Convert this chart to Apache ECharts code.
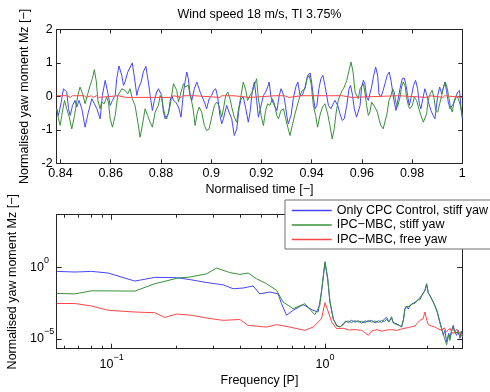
<!DOCTYPE html>
<html><head><meta charset="utf-8">
<script src="https://cdn.jsdelivr.net/npm/echarts@6/dist/echarts.min.js"></script>
<style>html,body{margin:0;padding:0;background:#fff}#c{width:490px;height:392px}</style>
</head><body><div id="c"></div>
<script>
const titleText = 'Wind speed 18 m/s, TI 3.75%';
const seriesNames = ['Only CPC Control, stiff yaw', 'IPC\u2212MBC, stiff yaw', 'IPC\u2212MBC, free yaw'];
const seriesColors = ['#4646ff', '#3a8f3a', '#ff4646'];
const timeRange = [0.8385, 1.0];
const timeTicks = [0.84, 0.86, 0.88, 0.9, 0.92, 0.94, 0.96, 0.98, 1.0];
const momentRange = [-2, 2];
const freqRange = [0.0553, 4.4];
const freqMajorTicks = [0.1, 1];
const freqMinorTicks = [0.06, 0.07, 0.08, 0.09, 0.2, 0.3, 0.4, 0.5, 0.6, 0.7, 0.8, 0.9, 2, 3, 4];
const psdRange = [2.1e-6, 4.7e3];
const psdTicks = [1e-5, 1];

const timeBlue = [[0.8385,-0.37],[0.8392,-0.57],[0.8403,-0.17],[0.8412,0.23],[0.8419,0.28],[0.8425,0.13],[0.8432,-0.37],[0.8439,-0.57],[0.8448,-0.27],[0.8458,-0.12],[0.8465,-0.32],[0.8474,-0.12],[0.8485,-0.37],[0.8498,-0.92],[0.8511,-0.47],[0.8525,-0.07],[0.8535,-0.22],[0.8545,-0.37],[0.8558,-0.67],[0.8567,0.03],[0.8578,0.48],[0.8588,0.13],[0.8598,-0.27],[0.8607,-0.12],[0.8618,0.03],[0.8624,0.53],[0.8633,0.91],[0.8644,0.63],[0.8651,0.33],[0.8657,0.43],[0.8668,0.73],[0.8686,1.0],[0.8697,0.43],[0.8704,0.03],[0.8710,0.23],[0.8721,0.43],[0.8730,0.73],[0.8740,0.90],[0.8750,0.43],[0.8757,0.03],[0.8766,-0.42],[0.8774,-0.12],[0.8783,0.13],[0.8790,0.23],[0.8797,0.18],[0.8803,0.03],[0.8810,-0.47],[0.8817,-0.67],[0.8823,-0.72],[0.8830,-0.52],[0.8837,-0.12],[0.8843,0.03],[0.8850,-0.12],[0.8859,-0.17],[0.8870,-0.32],[0.8880,-0.62],[0.8890,0.13],[0.8896,0.43],[0.8903,0.73],[0.8909,0.53],[0.8916,0.08],[0.8923,-0.12],[0.8933,0.23],[0.8943,0.43],[0.8949,0.38],[0.8956,0.13],[0.8962,0.03],[0.8973,-0.17],[0.8982,-0.37],[0.8992,-0.07],[0.9002,0.03],[0.9010,0.18],[0.9018,0.23],[0.9026,-0.02],[0.9035,-0.57],[0.9042,-0.82],[0.9049,-0.67],[0.9055,-0.47],[0.9062,-0.27],[0.9071,-0.47],[0.9082,-0.67],[0.9092,-1.17],[0.9102,-0.97],[0.9111,-0.37],[0.9119,-0.07],[0.9128,-0.02],[0.9138,-0.37],[0.9148,-0.77],[0.9155,-0.47],[0.9164,0.18],[0.9172,0.43],[0.9181,-0.12],[0.9188,-0.62],[0.9199,-0.27],[0.9208,0.03],[0.9217,0.13],[0.9225,0.28],[0.9231,0.43],[0.9238,-0.02],[0.9248,-0.22],[0.9254,-0.27],[0.9262,-0.42],[0.9270,-0.02],[0.9278,0.23],[0.9284,0.13],[0.9292,-0.07],[0.9301,-0.57],[0.9307,-0.82],[0.9318,-0.57],[0.9327,-0.07],[0.9337,0.28],[0.9345,0.43],[0.9354,0.03],[0.9363,0.03],[0.9374,0.28],[0.9384,0.63],[0.9394,0.70],[0.9400,0.43],[0.9407,-0.02],[0.9414,-0.37],[0.9421,-0.27],[0.9429,0.23],[0.9437,0.53],[0.9445,0.63],[0.9453,0.33],[0.9460,0.03],[0.9467,-0.27],[0.9477,-0.37],[0.9486,-0.22],[0.9493,-0.12],[0.9504,-0.27],[0.9513,-0.52],[0.9522,-0.72],[0.9530,-0.67],[0.9540,-0.27],[0.9549,0.23],[0.9555,0.33],[0.9563,0.03],[0.9570,-0.37],[0.9579,-0.62],[0.9586,-0.67],[0.9593,-0.27],[0.9599,0.28],[0.9606,0.48],[0.9612,0.38],[0.9619,-0.02],[0.9626,-0.12],[0.9632,0.08],[0.9639,0.28],[0.9646,0.58],[0.9655,0.88],[0.9663,0.63],[0.9668,0.08],[0.9676,-0.02],[0.9685,0.18],[0.9692,0.38],[0.9701,0.63],[0.9709,0.73],[0.9716,0.48],[0.9723,0.13],[0.9729,-0.17],[0.9736,-0.42],[0.9742,-0.17],[0.9752,0.23],[0.9761,0.53],[0.9769,0.55],[0.9776,0.33],[0.9782,0.03],[0.9789,-0.27],[0.9798,0.03],[0.9806,0.33],[0.9814,0.48],[0.9822,0.23],[0.9829,-0.22],[0.9835,-0.37],[0.9843,-0.07],[0.9851,0.23],[0.9859,0.03],[0.9867,-0.22],[0.9875,-0.42],[0.9884,-0.57],[0.9891,-0.67],[0.9896,-0.37],[0.9902,0.03],[0.9910,0.28],[0.9918,0.08],[0.9924,0.23],[0.9931,0.43],[0.9937,0.18],[0.9944,-0.17],[0.9951,-0.37],[0.9957,-0.42],[0.9965,-0.22],[0.9973,-0.07],[0.9981,0.13],[0.9989,0.18],[0.9994,-0.27],[1.0,-0.67]];

const timeGreen = [[0.8385,-0.37],[0.8392,-0.67],[0.8399,-0.87],[0.8405,-0.57],[0.8416,-0.12],[0.8425,-0.37],[0.8435,-0.62],[0.8445,-0.97],[0.8456,-0.57],[0.8469,0.03],[0.8478,0.28],[0.8488,0.08],[0.8498,-0.22],[0.8509,0.08],[0.8518,0.33],[0.8527,0.53],[0.8535,0.80],[0.8543,0.43],[0.8549,-0.12],[0.8558,-0.37],[0.8564,-0.17],[0.8574,-0.22],[0.8584,-0.02],[0.8591,-0.17],[0.8598,-0.67],[0.8607,-0.92],[0.8618,-0.57],[0.8628,0.03],[0.8637,0.13],[0.8644,0.23],[0.8657,0.18],[0.8668,0.08],[0.8677,0.23],[0.8686,-0.07],[0.8697,-0.27],[0.8708,-0.77],[0.8717,-1.22],[0.8726,-0.87],[0.8737,-0.37],[0.8747,-0.57],[0.8757,-0.77],[0.8766,-0.92],[0.8777,-0.47],[0.8790,-0.27],[0.8797,0.03],[0.8803,-0.07],[0.8810,-0.37],[0.8817,-0.57],[0.8823,-0.67],[0.8830,-0.47],[0.8837,-0.27],[0.8843,0.03],[0.8850,0.38],[0.8856,0.43],[0.8863,0.18],[0.8870,-0.17],[0.8880,0.13],[0.8890,0.38],[0.8896,0.28],[0.8903,0.28],[0.8909,0.33],[0.8916,0.03],[0.8923,-0.17],[0.8929,-0.42],[0.8936,-0.87],[0.8944,-0.52],[0.8952,-0.32],[0.8962,-0.47],[0.8973,-0.87],[0.8982,-1.02],[0.8992,-0.97],[0.9002,-0.62],[0.9013,-0.27],[0.9022,-0.17],[0.9031,-0.27],[0.9042,-0.62],[0.9049,-0.37],[0.9058,0.03],[0.9066,0.13],[0.9075,-0.07],[0.9082,-0.32],[0.9092,-0.62],[0.9102,-0.77],[0.9108,-0.42],[0.9119,0.03],[0.9128,0.43],[0.9138,0.18],[0.9145,-0.12],[0.9155,0.03],[0.9164,0.13],[0.9172,0.33],[0.9181,0.53],[0.9188,-0.07],[0.9199,-0.57],[0.9208,-0.87],[0.9217,-0.42],[0.9225,-0.22],[0.9234,-0.27],[0.9244,-0.07],[0.9252,-0.22],[0.9261,-0.57],[0.9268,-0.67],[0.9278,-0.42],[0.9288,-0.37],[0.9297,-0.67],[0.9305,-0.92],[0.9314,-1.17],[0.9323,-0.87],[0.9334,-0.52],[0.9345,-0.22],[0.9354,0.03],[0.9363,0.18],[0.9374,0.23],[0.9382,0.53],[0.9390,0.63],[0.9398,0.38],[0.9407,-0.27],[0.9416,-0.57],[0.9424,-0.92],[0.9433,-0.57],[0.9443,-0.32],[0.9453,-0.22],[0.9464,-0.52],[0.9473,-0.87],[0.9482,-1.27],[0.9490,-0.97],[0.9498,-0.47],[0.9506,-0.12],[0.9513,0.03],[0.9522,0.18],[0.9530,0.28],[0.9540,0.48],[0.9549,0.78],[0.9557,1.03],[0.9565,0.73],[0.9573,0.13],[0.9579,0.13],[0.9586,-0.07],[0.9593,0.23],[0.9599,0.28],[0.9606,0.38],[0.9612,0.13],[0.9619,-0.27],[0.9626,-0.57],[0.9632,-0.47],[0.9639,-0.17],[0.9646,-0.12],[0.9652,-0.32],[0.9662,-0.47],[0.9668,-0.67],[0.9676,-0.87],[0.9685,-0.97],[0.9692,-0.97],[0.9700,-0.52],[0.9708,-0.12],[0.9716,0.03],[0.9723,0.23],[0.9729,0.13],[0.9735,-0.17],[0.9742,-0.32],[0.9752,-0.02],[0.9758,0.28],[0.9765,0.43],[0.9772,0.33],[0.9778,-0.02],[0.9785,-0.27],[0.9791,-0.37],[0.9801,-0.27],[0.9809,-0.02],[0.9818,-0.12],[0.9827,-0.37],[0.9835,-0.57],[0.9845,-0.77],[0.9851,-0.82],[0.9858,-0.52],[0.9864,-0.12],[0.9872,0.08],[0.9880,0.18],[0.9888,-0.07],[0.9894,-0.42],[0.9902,-0.47],[0.9910,-0.22],[0.9918,0.03],[0.9925,0.28],[0.9932,0.43],[0.9939,0.28],[0.9945,0.03],[0.9952,-0.27],[0.9960,-0.47],[0.9968,-0.12],[0.9976,0.03],[0.9984,-0.07],[0.9992,-0.27],[1.0,-0.6]];

const timeRed = [[0.8385,0.02],[0.8428,-0.03],[0.8440,0.02],[0.8448,-0.03],[0.8455,0.02],[0.8494,-0.03],[0.8503,0.02],[0.8522,-0.03],[0.8530,0.02],[0.8544,-0.03],[0.8552,0.02],[0.8630,-0.03],[0.8660,0.02],[0.8666,-0.03],[0.8690,0.02],[0.8696,-0.03],[0.8838,0.02],[0.8852,-0.03],[0.8880,0.02],[0.8888,-0.03],[0.8895,0.02],[0.8903,-0.03],[0.8910,0.02],[0.8918,-0.03],[0.8925,0.02],[0.8932,-0.03],[0.9035,0.02],[0.9043,-0.03],[0.9050,0.02],[0.9058,-0.03],[0.9065,0.02],[0.9073,-0.03],[0.9080,0.02],[0.9088,-0.03],[0.9155,0.02],[0.9255,-0.03],[0.9262,0.02],[0.9292,-0.03],[0.9310,0.02],[0.9360,-0.03],[0.9366,0.02],[0.9405,-0.03],[0.9411,0.02],[0.9450,-0.03],[0.9456,0.02],[0.9475,-0.03],[0.9481,0.02],[0.9522,-0.03],[0.9558,0.02],[0.9745,-0.03],[0.9862,0.02],[0.9870,-0.03],[0.9922,0.02],[0.9930,-0.03],[1.0,-0.03]];

const specBlue = [[0.0553,5.2e-1],[0.0673,4.7e-1],[0.0806,5.2e-1],[0.0964,4.0e-1],[0.1285,1.1e-1],[0.1595,2.0e-1],[0.2015,1.9e-1],[0.2327,1.4e-1],[0.2685,9.5e-2],[0.3102,6.9e-2],[0.3332,6.0e-2],[0.3712,3.2e-2],[0.4134,3.6e-2],[0.4604,5.0e-2],[0.4951,1.4e-2],[0.5515,1.9e-2],[0.6031,1.4e-2],[0.6256,2.9e-3],[0.6604,4.5e-4],[0.7089,1.0e-3],[0.7896,2.5e-3],[0.8798,1.0e-3],[0.9284,7.6e-4],[0.9629,1.9e-2],[1.0,2.3],[1.029,1.6e-1],[1.055,3.8e-3],[1.094,2.6e-4],[1.134,8.9e-5],[1.176,6.8e-5],[1.219,1.2e-4],[1.25,1.8e-4],[1.286,1.4e-4],[1.33,2.0e-4],[1.382,1.5e-4],[1.43,1.9e-4],[1.485,1.3e-4],[1.54,1.8e-4],[1.596,1.6e-4],[1.65,2.0e-4],[1.715,1.3e-4],[1.78,1.9e-4],[1.842,1.4e-4],[1.90,2.5e-4],[1.944,3.2e-4],[1.99,1.6e-4],[2.052,2.8e-4],[2.09,1.4e-4],[2.127,1.6e-4],[2.206,1.0e-4],[2.286,6.8e-5],[2.33,2.0e-4],[2.37,1.3e-3],[2.41,2.0e-3],[2.456,1.2e-3],[2.50,2.2e-3],[2.55,2.5e-3],[2.60,3.2e-3],[2.639,2.6e-3],[2.68,4.2e-3],[2.72,5.0e-3],[2.76,6.3e-3],[2.786,5.0e-3],[2.836,1.1e-2],[2.88,8.0e-3],[2.94,2.5e-2],[2.993,7.2e-2],[3.048,1.6e-2],[3.104,1.1e-2],[3.18,5.0e-3],[3.275,2.2e-3],[3.36,8.0e-4],[3.457,1.5e-4],[3.585,1.8e-5],[3.65,4.0e-5],[3.714,6.2e-6],[3.80,2.5e-5],[3.851,1.3e-5],[3.92,4.0e-5],[3.99,8.9e-5],[4.06,3.2e-5],[4.137,1.8e-5],[4.212,4.0e-5],[4.29,1.1e-5],[4.35,3.5e-5],[4.4,2.0e-5]];

const specGreen = [[0.0553,1.5e-2],[0.0673,1.4e-2],[0.0806,2.3e-2],[0.1285,2.2e-2],[0.1595,7.2e-2],[0.205,1.8e-1],[0.2327,2.1e-1],[0.2786,3.5e-1],[0.3102,8.9e-1],[0.3581,4.3e-1],[0.399,3.2e-1],[0.4363,4.0e-1],[0.4777,1.6e-1],[0.532,7.2e-2],[0.5927,2.5e-2],[0.6364,3.8e-3],[0.7089,1.3e-3],[0.8043,2.9e-3],[0.8959,4.9e-4],[0.9456,2.2e-3],[1.0,2.45],[1.029,1.8e-1],[1.055,4.0e-3],[1.094,2.4e-4],[1.134,8.0e-5],[1.176,7.0e-5],[1.219,1.0e-4],[1.25,1.6e-4],[1.286,1.8e-4],[1.33,1.4e-4],[1.382,1.9e-4],[1.43,1.5e-4],[1.485,1.7e-4],[1.54,1.3e-4],[1.596,2.0e-4],[1.65,1.5e-4],[1.715,1.8e-4],[1.78,1.4e-4],[1.842,2.0e-4],[1.90,1.6e-4],[1.944,2.4e-4],[1.99,1.5e-4],[2.052,3.6e-4],[2.09,1.3e-4],[2.127,1.7e-4],[2.206,9.0e-5],[2.286,7.5e-5],[2.33,2.2e-4],[2.37,1.2e-3],[2.41,1.8e-3],[2.456,1.4e-3],[2.50,2.0e-3],[2.55,2.8e-3],[2.60,2.9e-3],[2.639,3.0e-3],[2.68,3.8e-3],[2.72,5.5e-3],[2.76,5.8e-3],[2.786,5.5e-3],[2.836,1.0e-2],[2.88,9.0e-3],[2.94,2.3e-2],[2.993,6.5e-2],[3.048,1.7e-2],[3.104,1.0e-2],[3.18,5.5e-3],[3.275,2.0e-3],[3.36,7.0e-4],[3.457,1.3e-4],[3.585,2.2e-5],[3.65,3.0e-5],[3.714,4.0e-6],[3.80,2.0e-5],[3.851,8.0e-6],[3.92,3.5e-5],[3.99,7.0e-5],[4.06,2.5e-5],[4.137,2.2e-5],[4.212,3.2e-5],[4.29,1.4e-5],[4.35,3.0e-5],[4.4,1.6e-5]];

const specRed = [[0.0553,3.0e-3],[0.0673,3.0e-3],[0.0806,2.0e-3],[0.0964,1.0e-3],[0.1285,7.6e-4],[0.1595,6.8e-4],[0.1777,3.2e-4],[0.2015,5.5e-4],[0.2369,4.5e-4],[0.2786,2.9e-4],[0.3332,2.0e-4],[0.399,2.3e-4],[0.4363,8.9e-5],[0.532,6.8e-5],[0.5927,1.0e-4],[0.684,6.8e-5],[0.8043,4.0e-5],[0.8798,6.8e-5],[0.9629,2.6e-4],[1.0,3.4e-3],[1.037,7.6e-4],[1.075,1.5e-4],[1.134,5.2e-5],[1.219,5.6e-5],[1.30,4.2e-5],[1.382,4.5e-5],[1.485,4.0e-5],[1.596,1.8e-5],[1.65,3.5e-5],[1.75,4.5e-5],[1.842,3.5e-5],[1.95,4.2e-5],[2.052,4.5e-5],[2.17,4.0e-5],[2.286,5.0e-5],[2.456,6.3e-5],[2.639,7.9e-5],[2.70,1.2e-4],[2.786,2.0e-4],[2.88,2.5e-4],[2.94,7.6e-4],[3.0,2.0e-4],[3.048,1.0e-4],[3.15,8.0e-5],[3.275,6.8e-5],[3.40,5.0e-5],[3.52,4.0e-5],[3.62,6.0e-5],[3.714,3.2e-5],[3.851,5.6e-5],[3.95,2.5e-5],[4.06,2.8e-5],[4.137,5.0e-5],[4.212,4.0e-5],[4.29,2.5e-5],[4.4,1.4e-5]];

const FONT = "'Liberation Sans', Arial, Helvetica, sans-serif";
const FS = 12.5;
const AX = '#262626';
const lg = Math.log10;
const toLog = arr => arr.map(p => [lg(p[0]), lg(p[1])]);

const chart = echarts.init(document.getElementById('c'), null, {renderer: 'canvas'});

const lineAxis = {show: true, onZero: false, lineStyle: {color: AX, width: 1}};
const txt = {color: '#000', fontSize: FS, fontFamily: FONT};
const expLabel = v => {
  const e = Math.round(v);
  return '{b|10}{s|' + (e < 0 ? '\u2212' + (-e) : String(e)) + '}';
};
const expRich = {
  b: {fontSize: FS, fontFamily: FONT, color: '#000', padding: [5, 0, 5, 0], verticalAlign: 'bottom'},
  s: {fontSize: 9, fontFamily: FONT, color: '#000', verticalAlign: 'top'}
};
const fLog = freqRange.map(lg), pLog = psdRange.map(lg);
const fMaj = freqMajorTicks.map(lg), fMin = freqMinorTicks.map(lg), pMaj = psdTicks.map(lg);

function tickAxis(extra) {
  return Object.assign({
    type: 'value', axisLine: lineAxis, splitLine: {show: false},
    axisLabel: {show: false}
  }, extra);
}

const option = {
  animation: false,
  backgroundColor: '#fff',
  textStyle: {fontFamily: FONT},
  title: {
    text: titleText, left: 259.5, top: 8, textAlign: 'center', padding: 0,
    textStyle: {fontSize: FS, fontWeight: 'normal', color: '#000', fontFamily: FONT}
  },
  legend: {
    orient: 'vertical', left: 285, top: 200,
    padding: [4, 10, 3, 6], itemGap: 1.5, itemWidth: 40, itemHeight: 14,
    backgroundColor: '#fff', borderColor: '#6e6e6e', borderWidth: 1, borderRadius: 0,
    textStyle: txt, selectedMode: false,
    data: seriesNames.map((n, i) => ({
      name: n,
      itemStyle: {opacity: 0, borderWidth: 0, color: seriesColors[i]},
      lineStyle: {color: seriesColors[i], width: 1.5, opacity: 1}
    }))
  },
  grid: [
    {left: 56.7, top: 29.5, width: 405.6, height: 133.8, outerBoundsMode: 'none', containLabel: false},
    {left: 56.7, top: 214.7, width: 405.6, height: 134, outerBoundsMode: 'none', containLabel: false}
  ],
  xAxis: [
    tickAxis({gridIndex: 0, position: 'bottom', min: timeRange[0], max: timeRange[1],
      axisTick: {show: true, inside: true, length: 4, customValues: timeTicks, lineStyle: {color: AX}},
      axisLabel: {show: true, customValues: timeTicks, margin: 4, ...txt},
      name: 'Normalised time [\u2212]', nameLocation: 'middle', nameGap: 20, nameTextStyle: txt}),
    tickAxis({gridIndex: 0, position: 'top', min: timeRange[0], max: timeRange[1],
      axisTick: {show: true, inside: true, length: 4, customValues: timeTicks, lineStyle: {color: AX}}}),
    tickAxis({gridIndex: 1, position: 'bottom', min: fLog[0], max: fLog[1],
      axisTick: {show: true, inside: true, length: 5, customValues: fMaj, lineStyle: {color: AX}},
      axisLabel: {show: true, customValues: fMaj, margin: 4, formatter: expLabel, rich: expRich},
      name: 'Frequency [P]', nameLocation: 'middle', nameGap: 25, nameTextStyle: txt}),
    tickAxis({gridIndex: 1, position: 'bottom', min: fLog[0], max: fLog[1],
      axisTick: {show: true, inside: true, length: 3, customValues: fMin, lineStyle: {color: AX}}}),
    tickAxis({gridIndex: 1, position: 'top', min: fLog[0], max: fLog[1],
      axisTick: {show: true, inside: true, length: 5, customValues: fMaj, lineStyle: {color: AX}}}),
    tickAxis({gridIndex: 1, position: 'top', min: fLog[0], max: fLog[1],
      axisTick: {show: true, inside: true, length: 3, customValues: fMin, lineStyle: {color: AX}}})
  ],
  yAxis: [
    tickAxis({gridIndex: 0, position: 'left', min: momentRange[0], max: momentRange[1], interval: 1,
      axisTick: {show: true, inside: true, length: 4, lineStyle: {color: AX}},
      axisLabel: {show: true, margin: 4, ...txt},
      name: 'Normalised yaw moment Mz [\u2212]', nameLocation: 'middle', nameGap: 22, nameTextStyle: txt}),
    tickAxis({gridIndex: 0, position: 'right', min: momentRange[0], max: momentRange[1], interval: 1,
      axisTick: {show: true, inside: true, length: 4, lineStyle: {color: AX}}}),
    tickAxis({gridIndex: 1, position: 'left', min: pLog[0], max: pLog[1],
      axisTick: {show: true, inside: true, length: 5, customValues: pMaj, lineStyle: {color: AX}},
      axisLabel: {show: true, customValues: pMaj, margin: 26.7, align: 'left', formatter: expLabel, rich: expRich},
      name: 'Normalised yaw moment Mz [\u2212]', nameLocation: 'middle', nameGap: 30, nameTextStyle: txt}),
    tickAxis({gridIndex: 1, position: 'right', min: pLog[0], max: pLog[1],
      axisTick: {show: true, inside: true, length: 5, customValues: pMaj, lineStyle: {color: AX}}})
  ],
  series: [
    {name: seriesNames[0], type: 'line', xAxisIndex: 0, yAxisIndex: 0, data: timeBlue},
    {name: seriesNames[1], type: 'line', xAxisIndex: 0, yAxisIndex: 0, data: timeGreen},
    {name: seriesNames[2], type: 'line', xAxisIndex: 0, yAxisIndex: 0, data: timeRed, step: 'end'},
    {name: seriesNames[0], type: 'line', xAxisIndex: 2, yAxisIndex: 2, data: toLog(specBlue)},
    {name: seriesNames[1], type: 'line', xAxisIndex: 2, yAxisIndex: 2, data: toLog(specGreen)},
    {name: seriesNames[2], type: 'line', xAxisIndex: 2, yAxisIndex: 2, data: toLog(specRed)}
  ].map((s, i) => Object.assign(s, {
    symbol: 'none', showSymbol: false, smooth: false, clip: true,
    lineStyle: {color: seriesColors[i % 3], width: 1},
    itemStyle: {color: seriesColors[i % 3]},
    emphasis: {disabled: true}
  }))
};
chart.setOption(option);
</script></body></html>
